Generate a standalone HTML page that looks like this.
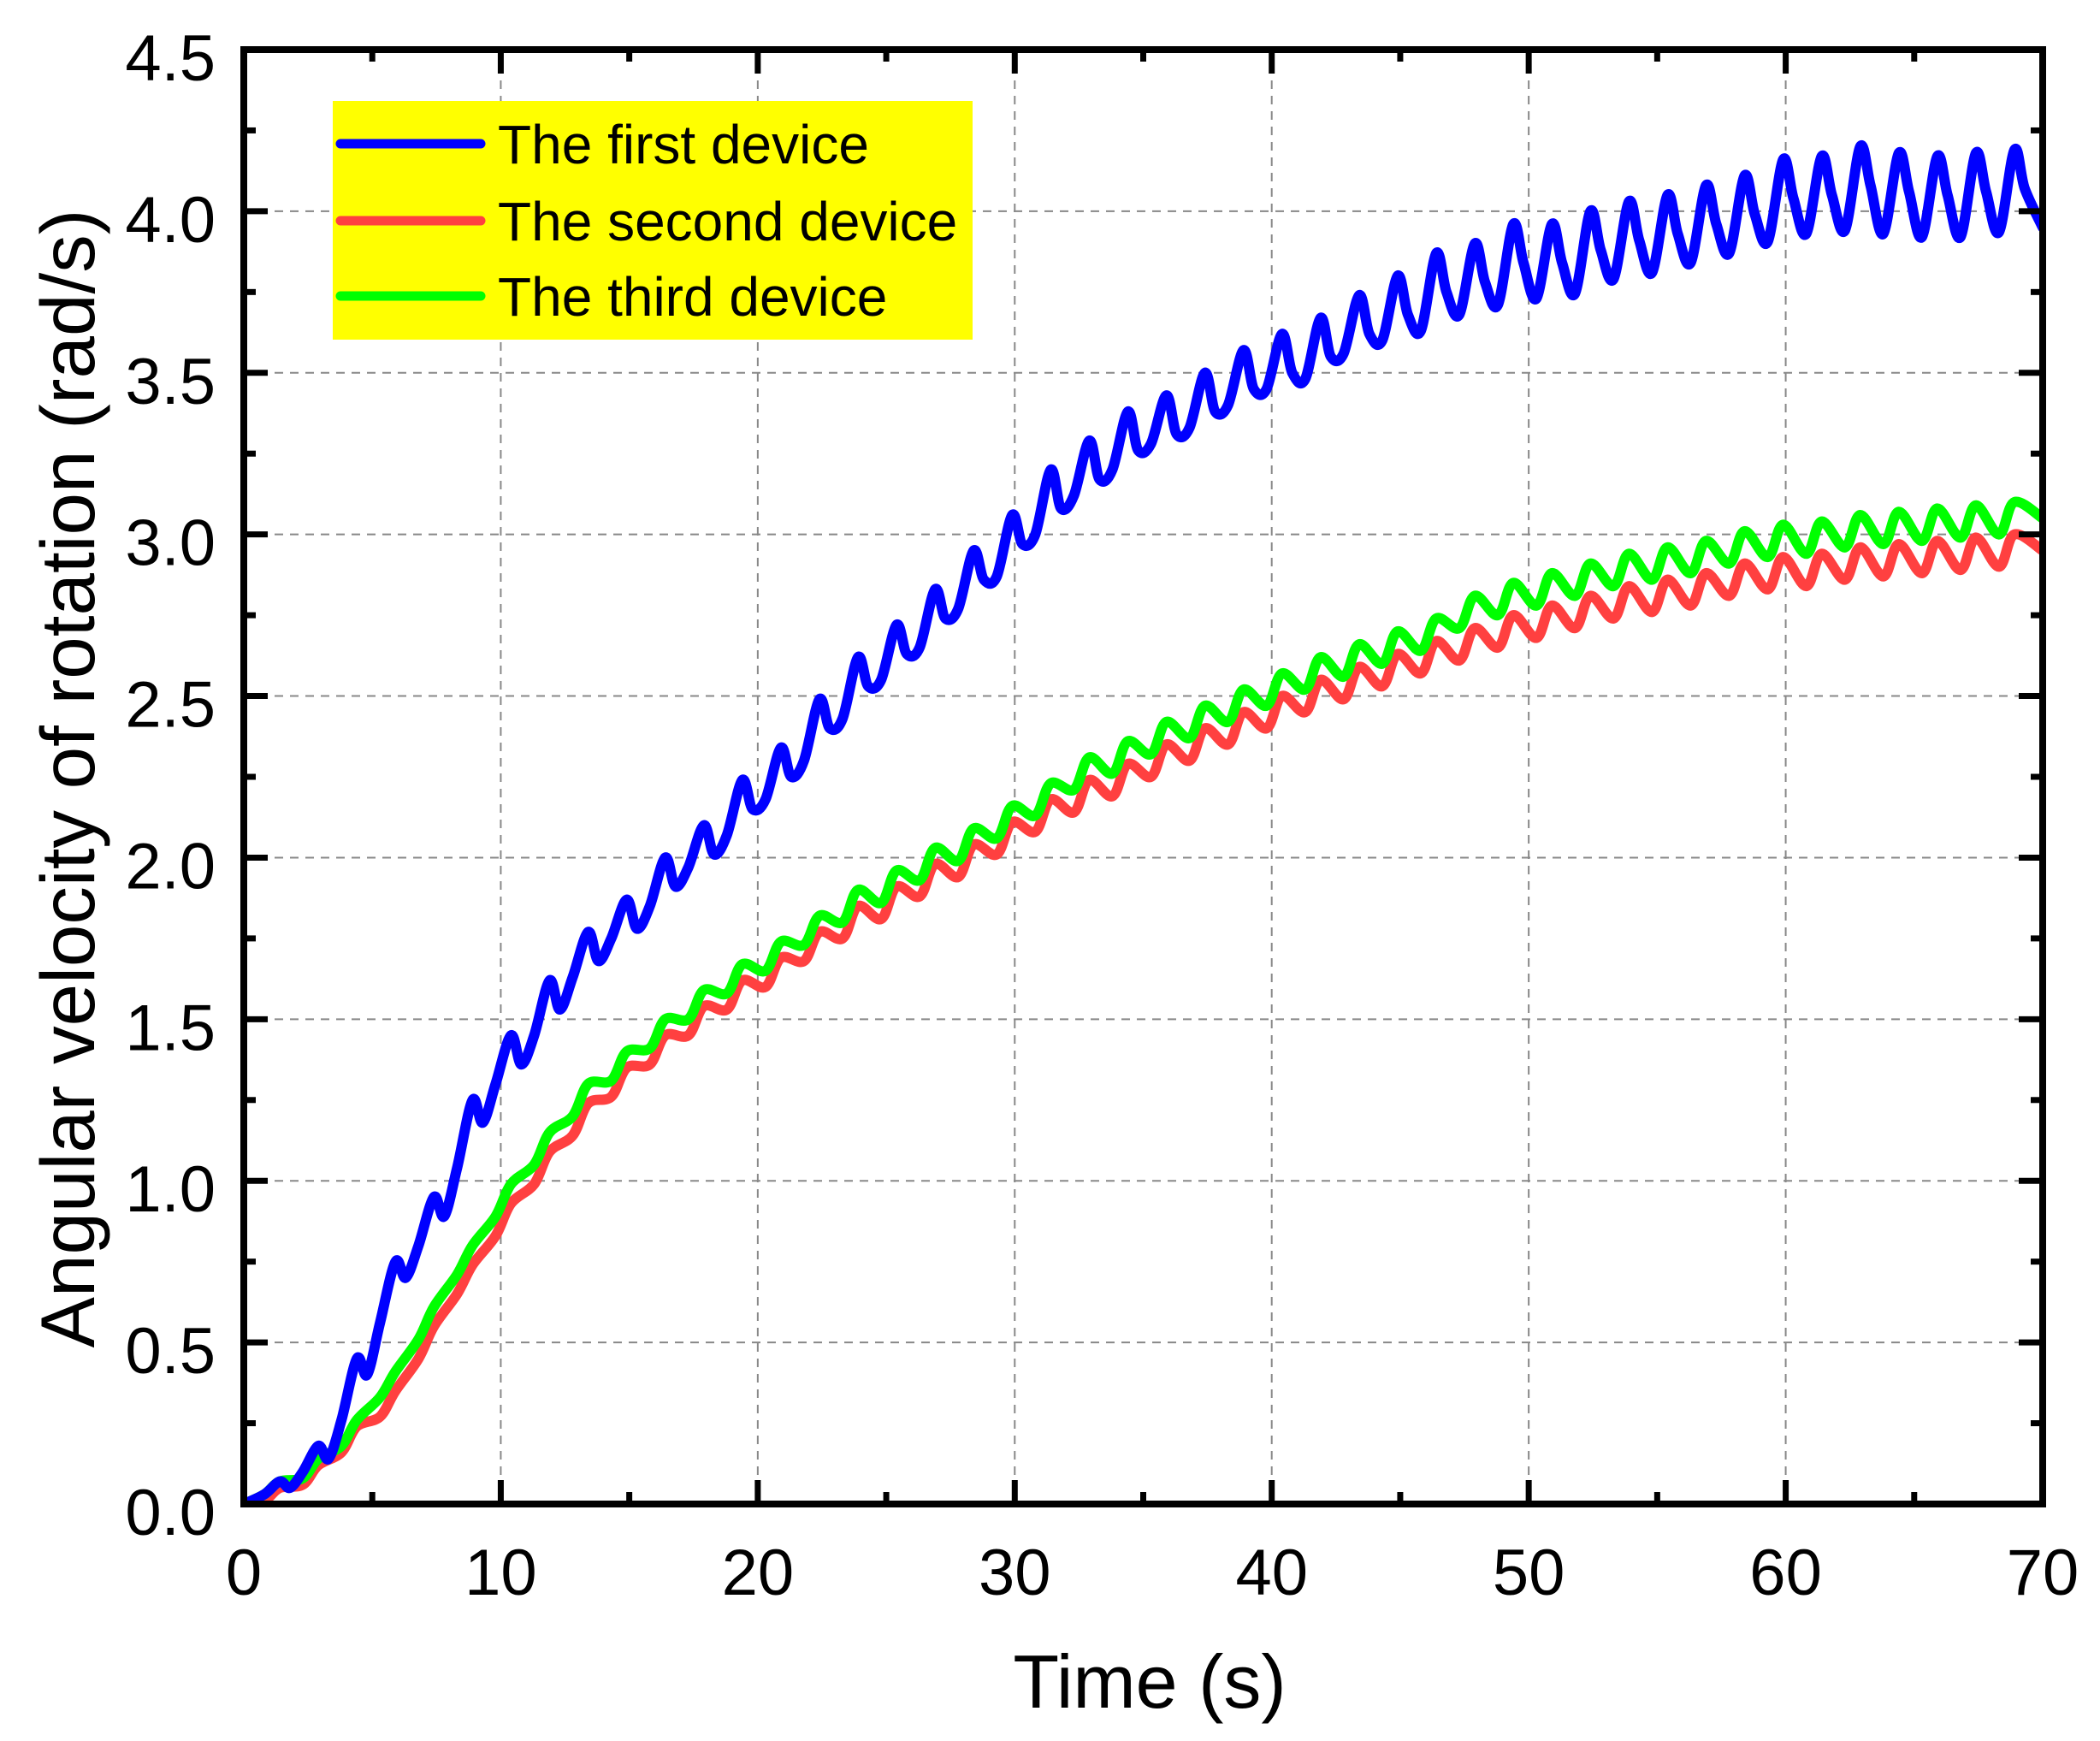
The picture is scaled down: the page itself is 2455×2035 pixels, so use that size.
<!DOCTYPE html>
<html><head><meta charset="utf-8"><style>
html,body{margin:0;padding:0;background:#fff}
svg{display:block}
text{font-family:"Liberation Sans",Arial,sans-serif;fill:#000}
</style></head><body>
<svg id="chart" width="2455" height="2035" viewBox="0 0 2455 2035" xmlns="http://www.w3.org/2000/svg">
<rect width="2455" height="2035" fill="#fff"/>
<g id="grid"></g>
<g id="series"></g>
<g id="axes"></g>
<g id="legend">
  <rect x="389" y="118" width="748" height="279" fill="#ffff00"/>
  <line x1="398" y1="168" x2="562" y2="168" stroke="#0000ff" stroke-width="11" stroke-linecap="round"/>
  <text x="582" y="191" font-size="64">The first device</text>
  <line x1="398" y1="258" x2="562" y2="258" stroke="#ff4040" stroke-width="11" stroke-linecap="round"/>
  <text x="582" y="281" font-size="64">The second device</text>
  <line x1="398" y1="346" x2="562" y2="346" stroke="#00ff00" stroke-width="11" stroke-linecap="round"/>
  <text x="582" y="369" font-size="64">The third device</text>
</g>
<text x="1344" y="1996" font-size="88" text-anchor="middle">Time (s)</text>
<text x="0" y="0" font-size="89" text-anchor="middle" transform="translate(110,910) rotate(-90)">Angular velocity of rotation (rad/s)</text>
</svg>
<script>
const xTicks = [0,10,20,30,40,50,60,70];
const yTicks = [0.0,0.5,1.0,1.5,2.0,2.5,3.0,3.5,4.0,4.5];
const yTickLabels = ["0.0","0.5","1.0","1.5","2.0","2.5","3.0","3.5","4.0","4.5"];
const peakTimes = [1.4,2.9,4.4,5.9,7.4,8.9,10.4,11.9,13.4,14.9,16.4,17.9,19.4,20.9,22.4,23.9,25.4,26.9,28.4,29.9,31.4,32.9,34.4,35.9,37.4,38.9,40.4,41.9,43.4,44.9,46.4,47.9,49.4,50.9,52.4,53.9,55.4,56.9,58.4,59.9,61.4,62.9,64.4,65.9,67.4,68.9];
const bluePeaks = [0.07,0.18,0.45,0.75,0.95,1.25,1.45,1.62,1.77,1.87,2.0,2.1,2.24,2.34,2.49,2.62,2.72,2.83,2.95,3.06,3.2,3.29,3.38,3.43,3.5,3.57,3.62,3.67,3.74,3.8,3.87,3.9,3.96,3.96,4.0,4.03,4.05,4.08,4.11,4.16,4.17,4.2,4.18,4.17,4.18,4.19];
const blueShoulders = [0.05,0.14,0.4,0.7,0.89,1.18,1.36,1.53,1.68,1.78,1.91,2.01,2.15,2.25,2.4,2.53,2.63,2.74,2.86,2.97,3.08,3.17,3.26,3.31,3.38,3.45,3.5,3.55,3.62,3.68,3.75,3.78,3.84,3.84,3.88,3.91,3.93,3.96,3.99,4.04,4.05,4.08,4.06,4.05,4.06,4.07];
const blueTroughs = [0.03,0.1,0.26,0.56,0.8,1.04,1.3,1.45,1.63,1.75,1.85,1.97,2.07,2.18,2.3,2.43,2.55,2.65,2.77,2.87,3.0,3.12,3.2,3.28,3.33,3.4,3.45,3.48,3.56,3.6,3.63,3.68,3.71,3.73,3.745,3.79,3.81,3.84,3.87,3.905,3.93,3.94,3.93,3.92,3.92,3.935];
const blueEnd = 3.95;
const redPeaks = [0.05,0.12,0.24,0.35,0.55,0.74,0.93,1.09,1.24,1.35,1.45,1.54,1.62,1.69,1.77,1.85,1.91,1.98,2.04,2.11,2.18,2.24,2.29,2.35,2.4,2.45,2.5,2.55,2.59,2.63,2.67,2.71,2.75,2.78,2.81,2.84,2.86,2.88,2.91,2.93,2.94,2.96,2.97,2.98,2.99,3.0];
const redTroughs = [0.01,0.06,0.16,0.27,0.45,0.65,0.83,0.99,1.14,1.26,1.36,1.45,1.53,1.6,1.68,1.75,1.81,1.88,1.94,2.01,2.08,2.14,2.19,2.25,2.3,2.35,2.4,2.45,2.49,2.53,2.57,2.61,2.65,2.68,2.71,2.74,2.76,2.78,2.81,2.83,2.84,2.86,2.87,2.88,2.89,2.9];
const redEnd = 2.95;
const greenPeaks = [0.07,0.14,0.26,0.41,0.61,0.8,0.99,1.15,1.3,1.4,1.5,1.59,1.67,1.74,1.82,1.9,1.96,2.03,2.09,2.16,2.23,2.31,2.36,2.42,2.47,2.52,2.57,2.62,2.66,2.7,2.74,2.81,2.85,2.88,2.91,2.94,2.96,2.98,3.01,3.03,3.04,3.06,3.07,3.08,3.09,3.1];
const greenTroughs = [0.03,0.08,0.18,0.33,0.51,0.71,0.89,1.05,1.2,1.31,1.41,1.5,1.58,1.65,1.73,1.8,1.86,1.93,1.99,2.06,2.13,2.21,2.26,2.32,2.37,2.42,2.47,2.52,2.56,2.6,2.64,2.71,2.75,2.78,2.81,2.84,2.86,2.88,2.91,2.93,2.94,2.96,2.97,2.98,2.99,3.0];
const greenEnd = 3.05;

const X0=285, X1=2388, Y0=1758, Y1=58, XMAX=70, YMAX=4.5;
function sx(v){return X0+(X1-X0)*v/XMAX;}
function sy(v){return Y0-(Y0-Y1)*v/YMAX;}
const NS="http://www.w3.org/2000/svg";
function mk(tag,attrs,parent){const e=document.createElementNS(NS,tag);for(const k in attrs)e.setAttribute(k,attrs[k]);parent.appendChild(e);return e;}

const grid=document.getElementById('grid');
xTicks.forEach(function(t){
  if(t>0&&t<XMAX){
    const l=mk('line',{x1:sx(t),y1:Y1,x2:sx(t),y2:Y0,stroke:'#888','stroke-width':2,'stroke-dasharray':'10,8'},grid);
    
    
  }
});
yTicks.forEach(function(t){
  if(t>0&&t<YMAX){
    const l=mk('line',{x1:X0,y1:sy(t),x2:X1,y2:sy(t),stroke:'#888','stroke-width':2,'stroke-dasharray':'10,8'},grid);
    
    
  }
});

function buildPts(peaks,troughs,shoulders,endVal){
  const pts=[[0,0]];
  for(let k=0;k<peakTimes.length;k++){
    pts.push([peakTimes[k]-0.6,troughs[k]]);
    pts.push([peakTimes[k],peaks[k]]);
    if(shoulders) pts.push([peakTimes[k]+0.4,shoulders[k]]);
  }
  pts.push([70,endVal]);
  return pts.map(function(p){return [sx(p[0]),sy(p[1])];});
}
function smoothPath(p){
  let d='M'+p[0][0].toFixed(1)+','+p[0][1].toFixed(1);
  for(let i=0;i<p.length-1;i++){
    const a=p[Math.max(0,i-1)],b=p[i],c=p[i+1],e=p[Math.min(p.length-1,i+2)];
    const c1=[b[0]+(c[0]-a[0])/6,b[1]+(c[1]-a[1])/6];
    const c2=[c[0]-(e[0]-b[0])/6,c[1]-(e[1]-b[1])/6];
    d+=' C'+c1[0].toFixed(1)+','+c1[1].toFixed(1)+' '+c2[0].toFixed(1)+','+c2[1].toFixed(1)+' '+c[0].toFixed(1)+','+c[1].toFixed(1);
  }
  return d;
}
const series=document.getElementById('series');
const clip=mk('clipPath',{id:'plotclip'},series);
mk('rect',{x:X0,y:Y1,width:X1-X0,height:Y0-Y1},clip);
const redPath=mk('path',{d:smoothPath(buildPts(redPeaks,redTroughs,null,redEnd)),fill:'none',stroke:'#ff4040','stroke-width':12,'stroke-linejoin':'round','stroke-linecap':'round','clip-path':'url(#plotclip)'},series);


const greenPath=mk('path',{d:smoothPath(buildPts(greenPeaks,greenTroughs,null,greenEnd)),fill:'none',stroke:'#00ff00','stroke-width':12,'stroke-linejoin':'round','stroke-linecap':'round','clip-path':'url(#plotclip)'},series);


const bluePath=mk('path',{d:smoothPath(buildPts(bluePeaks,blueTroughs,blueShoulders,blueEnd)),fill:'none',stroke:'#0000ff','stroke-width':12,'stroke-linejoin':'round','stroke-linecap':'round','clip-path':'url(#plotclip)'},series);



const axes=document.getElementById('axes');
const frame=mk('rect',{x:X0,y:Y1,width:X1-X0,height:Y0-Y1,fill:'none',stroke:'#000','stroke-width':8},axes);


for(let v=0;v<=XMAX;v+=5){
  const major=(v%10===0), L=major?28:14;
  const t1=mk('line',{x1:sx(v),y1:Y0,x2:sx(v),y2:Y0-L,stroke:'#000','stroke-width':7},axes);
  
  
  const t2=mk('line',{x1:sx(v),y1:Y1,x2:sx(v),y2:Y1+L,stroke:'#000','stroke-width':7},axes);
  
  
}
for(let i=0;i<=18;i++){
  const v=i*0.25, major=(i%2===0), L=major?28:14;
  const t1=mk('line',{x1:X0,y1:sy(v),x2:X0+L,y2:sy(v),stroke:'#000','stroke-width':7},axes);
  
  
  const t2=mk('line',{x1:X1,y1:sy(v),x2:X1-L,y2:sy(v),stroke:'#000','stroke-width':7},axes);
  
  
}
xTicks.forEach(function(t){
  const tx=mk('text',{x:sx(t),y:1864,'font-size':76,'text-anchor':'middle'},axes);
  tx.textContent=String(t);
  
  
});
yTicks.forEach(function(t,i){
  const tx=mk('text',{x:252,y:sy(t)+36,'font-size':76,'text-anchor':'end'},axes);
  tx.textContent=yTickLabels[i];
  
  
});
</script>
</body></html>
